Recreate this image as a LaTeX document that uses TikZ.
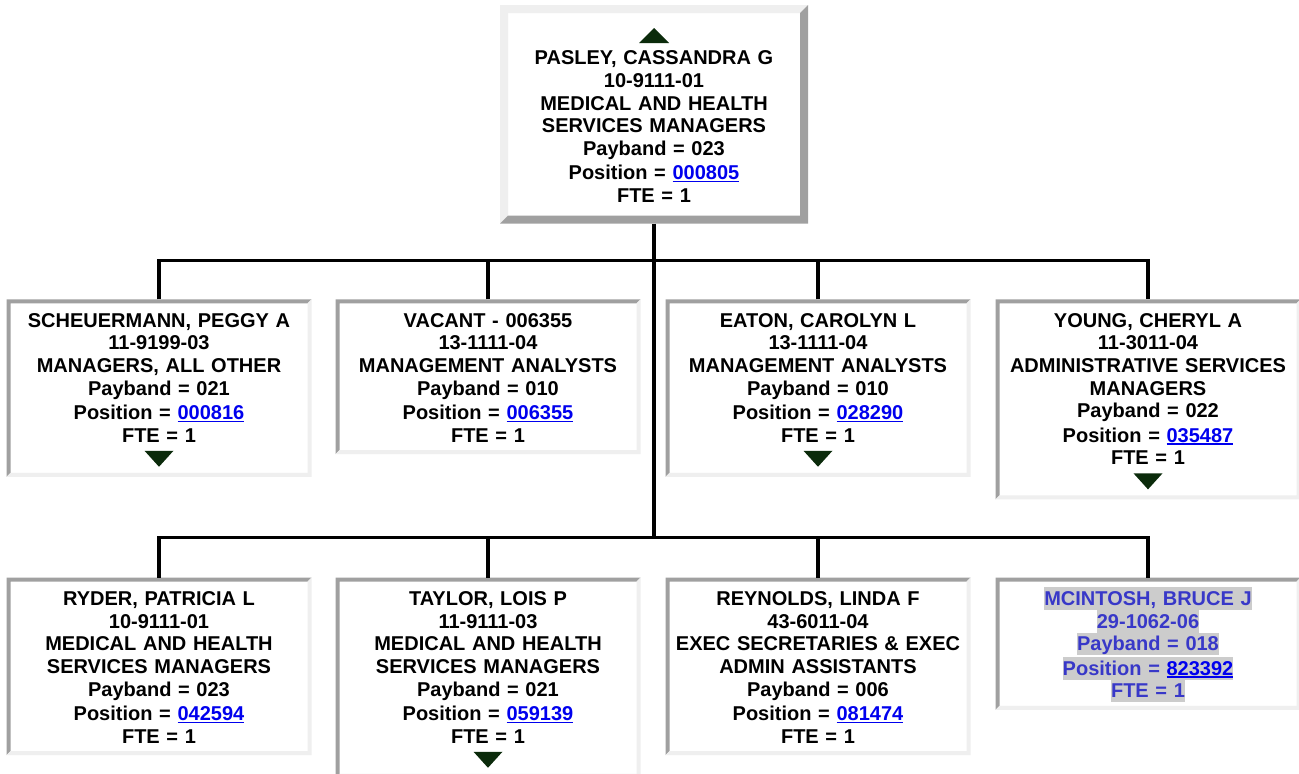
\documentclass[tikz,border=0pt]{standalone}
\usepackage{fontspec}
\setmainfont{Liberation Sans}
\usetikzlibrary{calc}
\definecolor{darkgr}{HTML}{A0A0A0}
\definecolor{lightgr}{HTML}{EFEFEF}
\definecolor{linkblue}{HTML}{0000EE}
\definecolor{tricol}{HTML}{0B2B0B}
\definecolor{vblue}{HTML}{3838C8}
\definecolor{hlgray}{HTML}{CCCCCC}
\newcommand\rowstrut{\rule[-3.3pt]{0pt}{22.6pt}}
\newcommand\lnk[1]{\textcolor{linkblue}{\setbox0\hbox{#1}\rlap{\rule[-2.6pt]{\wd0}{1.6pt}}\box0}}
\newcommand\hlt[1]{\setbox0\hbox{#1}\rlap{\smash{\textcolor{hlgray}{\rule[-4.3pt]{\wd0}{22.6pt}}}}\box0}
\newcommand\insetborder[1]{%
  \fill[darkgr] (#1.south west) -- (#1.north west) -- (#1.north east) -- ($(#1.north east)+(-4,-4)$) -- ($(#1.north west)+(4,-4)$) -- ($(#1.south west)+(4,4)$) -- cycle;
  \fill[lightgr] (#1.south west) -- (#1.south east) -- (#1.north east) -- ($(#1.north east)+(-4,-4)$) -- ($(#1.south east)+(-4,4)$) -- ($(#1.south west)+(4,4)$) -- cycle;}
\newcommand\outsetborder[1]{%
  \fill[lightgr] (#1.south west) -- (#1.north west) -- (#1.north east) -- ($(#1.north east)+(-8,-8)$) -- ($(#1.north west)+(8,-8)$) -- ($(#1.south west)+(8,8)$) -- cycle;
  \fill[darkgr] (#1.south west) -- (#1.south east) -- (#1.north east) -- ($(#1.north east)+(-8,-8)$) -- ($(#1.south east)+(-8,8)$) -- ($(#1.south west)+(8,8)$) -- cycle;}
\newcommand\downtri[1]{\fill[tricol] ($(#1.south)+(-14.5,26)$) -- ++(29,0) -- ++(-14.5,-16) -- cycle;}
\tikzset{
  cbox/.style={fill=white, outer sep=0pt, inner xsep=4pt, inner ysep=8.7pt,
    minimum width=305pt, text width=297pt, align=center, anchor=north,
    font=\fontsize{20}{22.6}\selectfont\bfseries},
  tbox/.style={cbox, minimum width=308pt, text width=300pt, inner ysep=18pt},
  conn/.style={line width=3.2pt, black}
}
\begin{document}
\begin{tikzpicture}[x=1pt,y=1pt]
\useasboundingbox (0,0) rectangle (1299,-774);
\fill[white] (0,0) rectangle (1299,-774);
% top
\node[tbox] (top) at (654,-5) {\rowstrut\\
\rowstrut PASLEY, CASSANDRA G\\ \rowstrut 10-9111-01\\ \rowstrut MEDICAL AND HEALTH\\ \rowstrut SERVICES MANAGERS\\
\rowstrut Payband = 023\\ \rowstrut Position = \lnk{000805}\\ \rowstrut FTE = 1};
% row 1
\node[cbox] (a1) at (159,-299.3) {\rowstrut SCHEUERMANN, PEGGY A\\ \rowstrut 11-9199-03\\ \rowstrut MANAGERS, ALL OTHER\\
\rowstrut Payband = 021\\ \rowstrut Position = \lnk{000816}\\ \rowstrut FTE = 1\\ \rowstrut};
\node[cbox] (a2) at (488,-299.3) {\rowstrut VACANT - 006355\\ \rowstrut 13-1111-04\\ \rowstrut MANAGEMENT ANALYSTS\\
\rowstrut Payband = 010\\ \rowstrut Position = \lnk{006355}\\ \rowstrut FTE = 1};
\node[cbox] (a3) at (818,-299.3) {\rowstrut EATON, CAROLYN L\\ \rowstrut 13-1111-04\\ \rowstrut MANAGEMENT ANALYSTS\\
\rowstrut Payband = 010\\ \rowstrut Position = \lnk{028290}\\ \rowstrut FTE = 1\\ \rowstrut};
\node[cbox] (a4) at (1148,-299.3) {\rowstrut YOUNG, CHERYL A\\ \rowstrut 11-3011-04\\ \rowstrut ADMINISTRATIVE SERVICES\\ \rowstrut MANAGERS\\
\rowstrut Payband = 022\\ \rowstrut Position = \lnk{035487}\\ \rowstrut FTE = 1\\ \rowstrut};
% row 2
\node[cbox] (b1) at (159,-577.7) {\rowstrut RYDER, PATRICIA L\\ \rowstrut 10-9111-01\\ \rowstrut MEDICAL AND HEALTH\\ \rowstrut SERVICES MANAGERS\\
\rowstrut Payband = 023\\ \rowstrut Position = \lnk{042594}\\ \rowstrut FTE = 1};
\node[cbox] (b2) at (488,-577.7) {\rowstrut TAYLOR, LOIS P\\ \rowstrut 11-9111-03\\ \rowstrut MEDICAL AND HEALTH\\ \rowstrut SERVICES MANAGERS\\
\rowstrut Payband = 021\\ \rowstrut Position = \lnk{059139}\\ \rowstrut FTE = 1\\ \rowstrut};
\node[cbox] (b3) at (818,-577.7) {\rowstrut REYNOLDS, LINDA F\\ \rowstrut 43-6011-04\\ \rowstrut EXEC SECRETARIES \& EXEC\\ \rowstrut ADMIN ASSISTANTS\\
\rowstrut Payband = 006\\ \rowstrut Position = \lnk{081474}\\ \rowstrut FTE = 1};
\node[cbox, text=vblue] (b4) at (1148,-577.7) {\rowstrut\hlt{MCINTOSH, BRUCE J}\\ \rowstrut\hlt{29-1062-06}\\
\rowstrut\hlt{Payband = 018}\\ \rowstrut\hlt{Position = \lnk{823392}}\\ \rowstrut\hlt{FTE = 1}};
% borders
\outsetborder{top}
\foreach \n in {a1,a2,a3,a4,b1,b2,b3,b4}{\insetborder{\n}}
% triangles
\fill[tricol] ($(top.north)+(0,-23)$) -- ++(15,-15) -- ++(-30,0) -- cycle;
\downtri{a1}
\downtri{a3}
\downtri{a4}
\downtri{b2}
% connectors
\coordinate (bus1) at (0,-260.7);
\coordinate (bus2) at (0,-537.7);
\draw[conn] (top.south) -- (top.south |- bus2);
\draw[conn] (a1.north) -- (a1.north |- bus1) -| (a4.north);
\draw[conn] (a2.north) -- (a2.north |- bus1);
\draw[conn] (a3.north) -- (a3.north |- bus1);
\draw[conn] (b1.north) -- (b1.north |- bus2) -| (b4.north);
\draw[conn] (b2.north) -- (b2.north |- bus2);
\draw[conn] (b3.north) -- (b3.north |- bus2);
\end{tikzpicture}
\end{document}
